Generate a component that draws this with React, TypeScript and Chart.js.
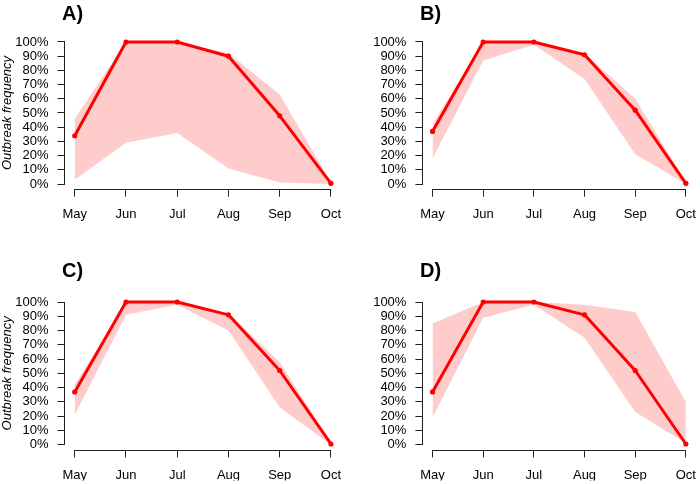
import React, { useEffect, useRef } from 'react';
import { Chart, registerables } from 'chart.js';

Chart.register(...registerables);

const months = ['May', 'Jun', 'Jul', 'Aug', 'Sep', 'Oct'];

const medianA = [34, 100, 100, 90, 48, 0.5];
const upperA = [46, 100, 100, 92, 63, 1];
const lowerA = [3, 29, 36, 11, 1, 0];

const medianB = [37, 100, 100, 91, 52, 0.5];
const upperB = [42, 100, 100, 92, 60, 1];
const lowerB = [18, 87, 98, 74, 21, 0];

const medianC = [37, 100, 100, 91, 52, 0.5];
const upperC = [42, 100, 100, 92, 58, 1];
const lowerC = [21, 91, 98, 80, 26, 0];

const medianD = [37, 100, 100, 91, 52, 0.5];
const upperD = [85, 100, 100, 98, 93, 30];
const lowerD = [19, 89, 98, 75, 23, 1];

const FONT = "'Liberation Sans', Arial, Helvetica, sans-serif";
const AXIS_COLOR = '#222';

const toXY = (arr: number[]) => arr.map((v, i) => ({ x: i, y: v }));

const rAxes = {
  id: 'rAxes',
  afterDraw(chart: any) {
    const { ctx, chartArea, scales } = chart;
    const x = scales.x;
    const y = scales.y;
    const ax = Math.round(chartArea.left - 0.5) + 0.5;
    const ay = Math.round(chartArea.bottom - 0.5) + 0.5;
    ctx.save();
    ctx.strokeStyle = AXIS_COLOR;
    ctx.lineWidth = 1;
    ctx.beginPath();
    ctx.moveTo(ax, Math.round(y.getPixelForValue(0) - 0.5) + 1);
    ctx.lineTo(ax, Math.round(y.getPixelForValue(100) - 0.5));
    ctx.moveTo(Math.round(x.getPixelForValue(0) - 0.5), ay);
    ctx.lineTo(Math.round(x.getPixelForValue(5) - 0.5) + 1, ay);
    ctx.stroke();
    ctx.restore();
  },
};

type PanelProps = {
  title: string;
  median: number[];
  upper: number[];
  lower: number[];
  left: number;
  top: number;
  height: number;
  yWidth: number;
  padRight: number;
  padTop: number;
  xHeight: number;
  padBottom: number;
  showYTitle: boolean;
  titleX: number;
  titleY: number;
};

function Panel(p: PanelProps) {
  const ref = useRef<HTMLCanvasElement>(null);
  useEffect(() => {
    const chart = new Chart(ref.current as HTMLCanvasElement, {
      type: 'line',
      data: {
        datasets: [
          {
            label: 'median',
            data: toXY(p.median),
            borderColor: '#FF0000',
            backgroundColor: '#FF0000',
            borderWidth: 3,
            borderJoinStyle: 'round',
            borderCapStyle: 'round',
            pointRadius: 2.6,
            pointBorderWidth: 0,
            pointBackgroundColor: '#FF0000',
            fill: false,
            tension: 0,
            order: 0,
          },
          {
            label: 'lower',
            data: toXY(p.lower),
            borderColor: 'rgba(0,0,0,0)',
            borderWidth: 0,
            pointRadius: 0,
            fill: false,
            tension: 0,
            order: 2,
          },
          {
            label: 'upper',
            data: toXY(p.upper),
            borderColor: 'rgba(0,0,0,0)',
            borderWidth: 0,
            pointRadius: 0,
            backgroundColor: 'rgba(255,0,0,0.2)',
            fill: 1,
            tension: 0,
            order: 1,
          },
        ],
      } as any,
      options: {
        responsive: false,
        animation: false,
        devicePixelRatio: 1,
        layout: {
          padding: { left: 0, right: p.padRight, top: p.padTop, bottom: p.padBottom },
        },
        plugins: {
          legend: { display: false },
          tooltip: { enabled: false },
          title: { display: false },
        },
        scales: {
          x: {
            type: 'linear',
            min: -0.2,
            max: 5.2,
            afterFit: (s: any) => {
              s.height = p.xHeight;
              s.paddingLeft = 0;
              s.paddingRight = 0;
            },
            ticks: {
              stepSize: 1,
              includeBounds: false,
              autoSkip: false,
              maxRotation: 0,
              minRotation: 0,
              padding: 10,
              color: '#000',
              font: { family: FONT, size: 13 },
              callback: (v: any) => months[Number(v)] ?? '',
            },
            grid: {
              display: true,
              drawOnChartArea: false,
              drawTicks: true,
              tickLength: 7,
              color: AXIS_COLOR,
              lineWidth: 1,
            },
            border: { display: true, color: 'rgba(0,0,0,0)', width: 1 },
          },
          y: {
            type: 'linear',
            min: -4,
            max: 104,
            afterFit: (s: any) => {
              s.width = p.yWidth;
              s.paddingTop = 0;
              s.paddingBottom = 0;
            },
            ticks: {
              stepSize: 10,
              includeBounds: false,
              autoSkip: false,
              padding: 9,
              color: '#000',
              font: { family: FONT, size: 13 },
              callback: (v: any) => `${v}%`,
            },
            grid: {
              display: true,
              drawOnChartArea: false,
              drawTicks: true,
              tickLength: 7,
              color: AXIS_COLOR,
              lineWidth: 1,
            },
            border: { display: true, color: 'rgba(0,0,0,0)', width: 1 },
            title: {
              display: p.showYTitle,
              text: 'Outbreak frequency',
              color: '#000',
              padding: 0,
              font: { family: FONT, size: 13, style: 'italic', lineHeight: 1.07 },
            },
          },
        },
      } as any,
      plugins: [rAxes],
    });
    return () => chart.destroy();
  }, []);

  return (
    <>
      <canvas
        ref={ref}
        width={350}
        height={p.height}
        style={{ position: 'absolute', left: p.left, top: p.top, width: 350, height: p.height }}
      />
      <div
        style={{
          position: 'absolute',
          left: p.titleX,
          top: p.titleY,
          fontFamily: FONT,
          fontWeight: 'bold',
          fontSize: 20,
          lineHeight: '20px',
          color: '#000',
          whiteSpace: 'nowrap',
        }}
      >
        {p.title}
      </div>
    </>
  );
}

export default function App() {
  return (
    <div
      style={{
        position: 'absolute',
        left: 0,
        top: 0,
        width: 700,
        height: 484,
        overflow: 'hidden',
        background: '#fff',
      }}
    >
      <Panel title="A)" median={medianA} upper={upperA} lower={lowerA}
        left={0} top={0} height={242} yWidth={64.5} padRight={8.8} padTop={36.3}
        xHeight={40} padBottom={12.3} showYTitle={true} titleX={62} titleY={3} />
      <Panel title="B)" median={medianB} upper={upperB} lower={lowerB}
        left={350} top={0} height={242} yWidth={72.4} padRight={0.8} padTop={36.3}
        xHeight={40} padBottom={12.3} showYTitle={false} titleX={420} titleY={3} />
      <Panel title="C)" median={medianC} upper={upperC} lower={lowerC}
        left={0} top={260} height={224} yWidth={64.5} padRight={8.8} padTop={36.3}
        xHeight={30} padBottom={3.6} showYTitle={true} titleX={62} titleY={259.5} />
      <Panel title="D)" median={medianD} upper={upperD} lower={lowerD}
        left={350} top={260} height={224} yWidth={72.4} padRight={0.8} padTop={36.3}
        xHeight={30} padBottom={3.6} showYTitle={false} titleX={420} titleY={259.5} />
    </div>
  );
}
